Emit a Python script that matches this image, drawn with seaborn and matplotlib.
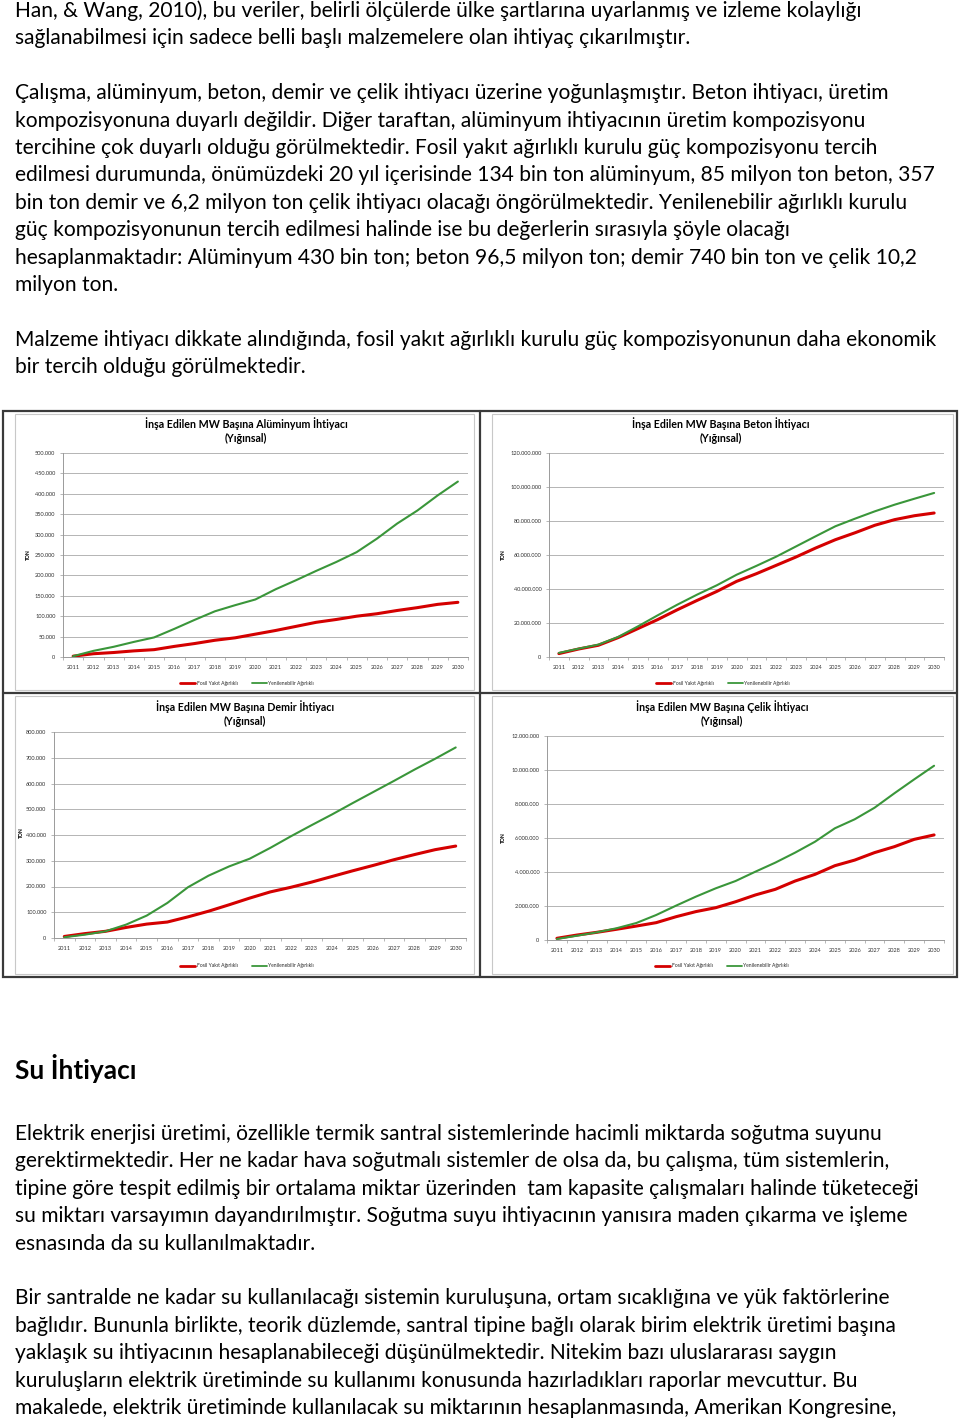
import numpy as np
import pandas as pd
import matplotlib
matplotlib.use("Agg")
import matplotlib.pyplot as plt
import seaborn as sns
from matplotlib.patches import Rectangle
from matplotlib.lines import Line2D
from matplotlib.ticker import FuncFormatter, MultipleLocator

# ---------------- data ----------------
years = list(range(2011, 2031))
series_names = ["Fosil Yakıt Ağırlıklı", "Yenilenebilir Ağırlıklı"]

alu_fosil = [2000, 8000, 11000, 15000, 18000, 26000, 33000, 41000, 47000, 56000,
             65000, 75000, 85000, 92000, 100000, 106000, 114000, 121000, 129000, 134000]
alu_yenil = [2000, 15000, 25000, 37000, 48000, 69000, 91000, 112000, 127000, 141000,
             166000, 188000, 211000, 233000, 257000, 290000, 327000, 359000, 396000, 430000]

beton_fosil = [2.0e6, 4.7e6, 6.9e6, 11.4e6, 16.7e6, 22.0e6, 27.8e6, 33.3e6, 38.6e6, 44.5e6,
               49.0e6, 53.9e6, 58.8e6, 64.1e6, 69.0e6, 73.1e6, 77.5e6, 80.8e6, 83.1e6, 84.7e6]
beton_yenil = [2.4e6, 4.9e6, 7.3e6, 11.8e6, 18.0e6, 24.5e6, 30.8e6, 36.7e6, 42.2e6, 48.4e6,
               53.6e6, 59.0e6, 65.0e6, 71.0e6, 76.9e6, 81.4e6, 85.7e6, 89.6e6, 93.1e6, 96.5e6]

demir_fosil = [6000, 17000, 26000, 41000, 54000, 62000, 82000, 104000, 129000, 155000,
               179000, 197000, 217000, 239000, 261000, 282000, 304000, 324000, 343000, 357000]
demir_yenil = [3000, 13000, 26000, 52000, 87000, 136000, 197000, 242000, 278000, 308000,
               350000, 395000, 438000, 480000, 524000, 567000, 610000, 654000, 696000, 740000]

celik_fosil = [0.10e6, 0.29e6, 0.45e6, 0.63e6, 0.82e6, 1.02e6, 1.37e6, 1.67e6, 1.90e6, 2.25e6,
               2.65e6, 2.98e6, 3.47e6, 3.86e6, 4.37e6, 4.70e6, 5.14e6, 5.49e6, 5.92e6, 6.18e6]
celik_yenil = [0.06e6, 0.25e6, 0.45e6, 0.69e6, 1.00e6, 1.47e6, 2.02e6, 2.55e6, 3.04e6, 3.47e6,
               4.02e6, 4.55e6, 5.14e6, 5.78e6, 6.57e6, 7.10e6, 7.78e6, 8.63e6, 9.45e6, 10.25e6]

chart_titles = ["İnşa Edilen MW Başına Alüminyum İhtiyacı",
                "İnşa Edilen MW Başına Beton İhtiyacı",
                "İnşa Edilen MW Başına Demir İhtiyacı",
                "İnşa Edilen MW Başına Çelik İhtiyacı"]
subtitle = "(Yığınsal)"
y_label = "TON"

para1 = ["Han, & Wang, 2010), bu veriler, belirli ölçülerde ülke şartlarına uyarlanmış ve izleme kolaylığı",
         "sağlanabilmesi için sadece belli başlı malzemelere olan ihtiyaç çıkarılmıştır."]
para2 = ["Çalışma, alüminyum, beton, demir ve çelik ihtiyacı üzerine yoğunlaşmıştır. Beton ihtiyacı, üretim",
         "kompozisyonuna duyarlı değildir. Diğer taraftan, alüminyum ihtiyacının üretim kompozisyonu",
         "tercihine çok duyarlı olduğu görülmektedir. Fosil yakıt ağırlıklı kurulu güç kompozisyonu tercih",
         "edilmesi durumunda, önümüzdeki 20 yıl içerisinde 134 bin ton alüminyum, 85 milyon ton beton, 357",
         "bin ton demir ve 6,2 milyon ton çelik ihtiyacı olacağı öngörülmektedir. Yenilenebilir ağırlıklı kurulu",
         "güç kompozisyonunun tercih edilmesi halinde ise bu değerlerin sırasıyla şöyle olacağı",
         "hesaplanmaktadır: Alüminyum 430 bin ton; beton 96,5 milyon ton; demir 740 bin ton ve çelik 10,2",
         "milyon ton."]
para3 = ["Malzeme ihtiyacı dikkate alındığında, fosil yakıt ağırlıklı kurulu güç kompozisyonunun daha ekonomik",
         "bir tercih olduğu görülmektedir."]
heading = "Su İhtiyacı"
para4 = ["Elektrik enerjisi üretimi, özellikle termik santral sistemlerinde hacimli miktarda soğutma suyunu",
         "gerektirmektedir. Her ne kadar hava soğutmalı sistemler de olsa da, bu çalışma, tüm sistemlerin,",
         "tipine göre tespit edilmiş bir ortalama miktar üzerinden  tam kapasite çalışmaları halinde tüketeceği",
         "su miktarı varsayımın dayandırılmıştır. Soğutma suyu ihtiyacının yanısıra maden çıkarma ve işleme",
         "esnasında da su kullanılmaktadır."]
para5 = ["Bir santralde ne kadar su kullanılacağı sistemin kuruluşuna, ortam sıcaklığına ve yük faktörlerine",
         "bağlıdır. Bununla birlikte, teorik düzlemde, santral tipine bağlı olarak birim elektrik üretimi başına",
         "yaklaşık su ihtiyacının hesaplanabileceği düşünülmektedir. Nitekim bazı uluslararası saygın",
         "kuruluşların elektrik üretiminde su kullanımı konusunda hazırladıkları raporlar mevcuttur. Bu",
         "makalede, elektrik üretiminde kullanılacak su miktarının hesaplanmasında, Amerikan Kongresine,"]

# ---------------- style ----------------
sns.set_theme(style="white")
plt.rcParams['font.family'] = ['Lato', 'DejaVu Sans']

W, H = 960, 1420
fig = plt.figure(figsize=(W / 100, H / 100), dpi=100)
fig.patch.set_facecolor("white")
renderer = fig.canvas.get_renderer()

def fx(x):
    return x / W

def fy(y):
    return 1 - y / H

def rect(x0, y0, x1, y1):
    return [x0 / W, 1 - y1 / H, (x1 - x0) / W, (y1 - y0) / H]

def fit_size(text, target_px, weight="normal"):
    t = fig.text(0, 0, text, fontsize=10, weight=weight)
    w = t.get_window_extent(renderer).width
    t.remove()
    return 10 * target_px / w

# ---------------- body text ----------------
body_fs = fit_size(para2[3], 920)
LS = 27.4

def put_lines(lines, y0, fs=body_fs, weight="normal"):
    for i, line in enumerate(lines):
        fig.text(fx(15), fy(y0 + i * LS), line, fontsize=fs, weight=weight,
                 ha="left", va="baseline", color="black")

put_lines(para1, 17)
put_lines(para2, 17 + 3 * LS)
put_lines(para3, 17 + 12 * LS)
fig.text(fx(15), fy(1079), heading, fontsize=body_fs * 1.25, weight="bold",
         ha="left", va="baseline", color="black")
put_lines(para4, 1140)
put_lines(para5, 1140 + 6 * LS)

# ---------------- frames ----------------
dark = "#3a3a3a"
fig.add_artist(Rectangle((fx(3), fy(977)), (957 - 3) / W, (977 - 411) / H,
                         transform=fig.transFigure, fill=False, ec=dark, lw=1.6))
fig.add_artist(Line2D([fx(480), fx(480)], [fy(411), fy(977)], transform=fig.transFigure,
                      color=dark, lw=1.6))
fig.add_artist(Line2D([fx(3), fx(957)], [fy(693), fy(693)], transform=fig.transFigure,
                      color=dark, lw=1.6))
for (x0, y0, x1, y1) in [(15, 414, 474, 690), (492, 414, 953, 690),
                         (15, 696, 474, 974), (492, 696, 953, 974)]:
    fig.add_artist(Rectangle((fx(x0), fy(y1)), (x1 - x0) / W, (y1 - y0) / H,
                             transform=fig.transFigure, fill=False, ec="#c8c8c8", lw=0.8))

# ---------------- charts ----------------
RED = "#d40000"
GREEN = "#3a963a"
title_fs = fit_size(chart_titles[0], 202, weight="bold")
tick_fs = 4.1
leg_fs = 3.6

def dotfmt(v, pos):
    return f"{int(round(v)):,}".replace(",", ".")

def draw_chart(area, fosil, yenil, ymax, ystep, title, title_cx, title_y,
               ylab_xy, leg_xy):
    ax = fig.add_axes(rect(*area))
    df = pd.DataFrame({"Yıl": years * 2,
                       "Değer": list(fosil) + list(yenil),
                       "Seri": [series_names[0]] * len(years) + [series_names[1]] * len(years)})
    sns.lineplot(data=df[df["Seri"] == series_names[0]], x="Yıl", y="Değer", ax=ax,
                 color=RED, linewidth=2.2, legend=False)
    sns.lineplot(data=df[df["Seri"] == series_names[1]], x="Yıl", y="Değer", ax=ax,
                 color=GREEN, linewidth=1.5, legend=False)
    ax.set_xlim(years[0] - 0.5, years[-1] + 0.5)
    ax.set_ylim(0, ymax)
    ax.set_xlabel("")
    ax.set_ylabel("")
    ax.set_xticks(years)
    ax.set_xticklabels([str(y) for y in years])
    ax.set_xticks([y + 0.5 for y in [years[0] - 1] + years], minor=True)
    ax.yaxis.set_major_locator(MultipleLocator(ystep))
    ax.yaxis.set_major_formatter(FuncFormatter(dotfmt))
    ax.grid(axis="y", color="#a8a8a8", lw=0.6)
    ax.set_axisbelow(True)
    for s in ["top", "right"]:
        ax.spines[s].set_visible(False)
    for s in ["left", "bottom"]:
        ax.spines[s].set_color("#9a9a9a")
        ax.spines[s].set_linewidth(0.7)
    ax.tick_params(axis="x", which="major", length=0, labelsize=tick_fs,
                   labelcolor="#333333", pad=6)
    ax.tick_params(axis="x", which="minor", length=2.5, width=0.5, color="#9a9a9a",
                   direction="out", bottom=True)
    ax.tick_params(axis="y", which="major", length=2.5, width=0.5, color="#9a9a9a",
                   labelsize=tick_fs, labelcolor="#333333", pad=3, left=True)
    ax.set_facecolor("white")
    fig.text(fx(title_cx), fy(title_y), title, fontsize=title_fs, weight="bold",
             ha="center", va="center", color="black")
    fig.text(fx(title_cx), fy(title_y + 14), subtitle, fontsize=title_fs, weight="bold",
             ha="center", va="center", color="black")
    fig.text(fx(ylab_xy[0]), fy(ylab_xy[1]), y_label, fontsize=3.6, weight="bold",
             rotation=90, ha="center", va="center", color="black")
    handles = [Line2D([], [], color=RED, lw=2.0), Line2D([], [], color=GREEN, lw=1.3)]
    fig.legend(handles, series_names, loc="center",
               bbox_to_anchor=(fx(leg_xy[0]), fy(leg_xy[1])),
               bbox_transform=fig.transFigure, ncol=2, frameon=False,
               fontsize=leg_fs, handlelength=3.0, handletextpad=0.3, columnspacing=2.8)
    return ax

draw_chart((63, 453, 468, 657), alu_fosil, alu_yenil, 500000, 50000,
           chart_titles[0], 246, 424, (28, 555), (247, 683))
draw_chart((549, 453, 944, 657), beton_fosil, beton_yenil, 120e6, 20e6,
           chart_titles[1], 721, 424, (503, 555), (723, 683))
draw_chart((54, 732, 466, 938), demir_fosil, demir_yenil, 800000, 100000,
           chart_titles[2], 245, 707, (21, 833), (247, 966))
draw_chart((547, 736, 944, 940), celik_fosil, celik_yenil, 12e6, 2e6,
           chart_titles[3], 722, 707, (503, 838), (722, 966))

fig.savefig("out.png", dpi=100, facecolor="white")
